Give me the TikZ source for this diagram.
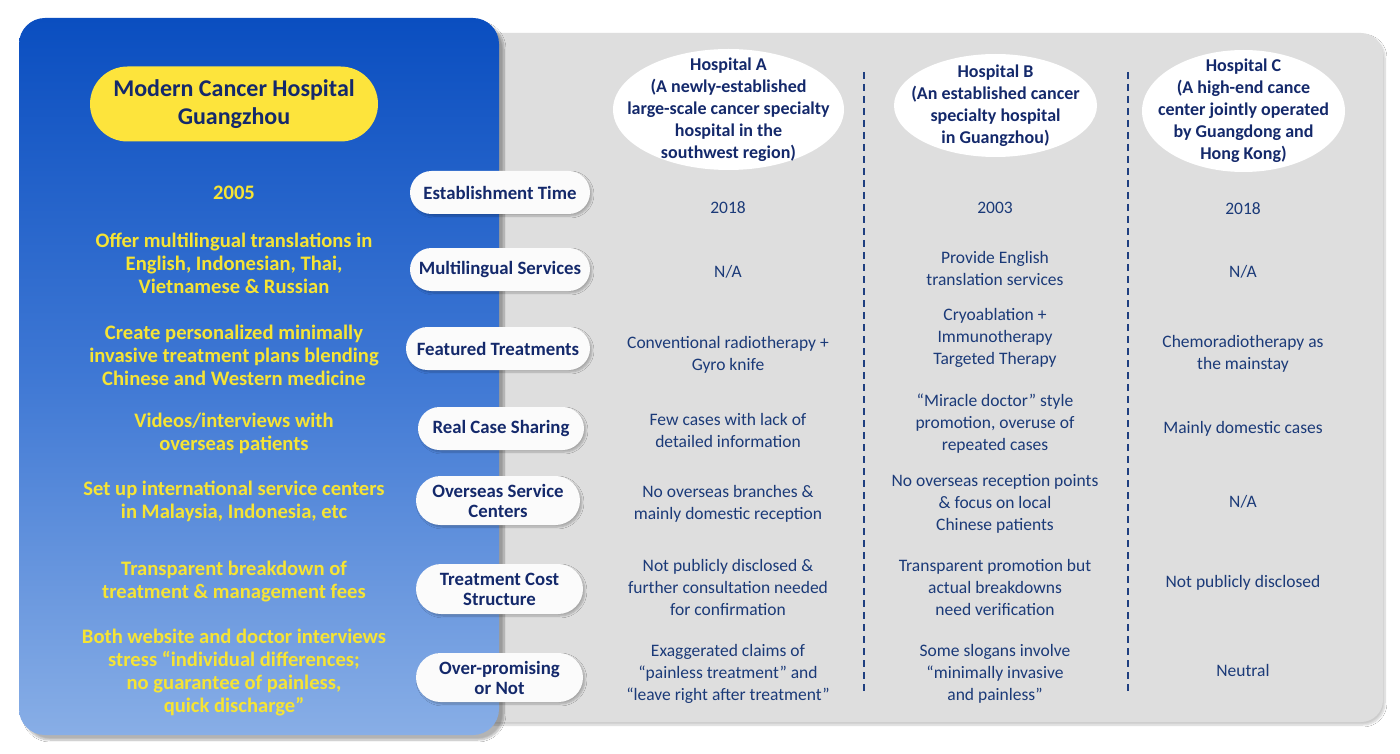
\documentclass[tikz,border=0pt]{standalone}
\usepackage{fontspec}
\setmainfont{Carlito}
\usetikzlibrary{shapes.geometric,shapes.misc,shadows.blur}
\definecolor{navy}{HTML}{14296B}
\definecolor{cellblue}{HTML}{1B3A78}
\definecolor{yel}{HTML}{F6E434}
\definecolor{pill}{HTML}{FDE43C}
\definecolor{graybg}{HTML}{DEDEDE}
\definecolor{btop}{HTML}{0A4EC0}
\definecolor{bmid}{HTML}{3F78D4}
\definecolor{bbot}{HTML}{88AEE6}
\definecolor{dashc}{HTML}{1F3F80}
\tikzset{
  lbl/.style={rounded rectangle, fill=white!97!gray, text=navy, align=center, inner sep=0pt,
    font=\bfseries\fontsize{18.8}{20}\selectfont,
    blur shadow={shadow xshift=2pt, shadow yshift=-2pt, shadow opacity=25, shadow blur steps=6}},
  cell/.style={text=cellblue, align=center, inner sep=0pt, font=\fontsize{17.5}{22}\selectfont},
  lefttxt/.style={text=yel, align=center, inner sep=0pt, font=\bfseries\fontsize{20.6}{23}\selectfont},
  hospshape/.style={ellipse, fill=white, inner sep=0pt, draw=none},
  hosptxt/.style={text=navy, align=center, inner sep=0pt, font=\bfseries\fontsize{18}{22}\selectfont},
  dashline/.style={draw=dashc, line width=1.6pt, dash pattern=on 7pt off 5pt}
}
\begin{document}
\begin{tikzpicture}[x=1pt,y=-1pt]
\useasboundingbox (0,0) rectangle (1400,754);
\fill[white] (0,0) rectangle (1400,754);
% gray panel
\path[fill=graybg, rounded corners=22pt,
  blur shadow={shadow xshift=2pt, shadow yshift=-3pt, shadow opacity=20, shadow blur steps=8}]
  (470,33) rectangle (1383,722);
% blue panel
\path[top color=btop, bottom color=bbot, middle color=bmid, rounded corners=26pt,
  blur shadow={shadow xshift=5pt, shadow yshift=-5pt, shadow opacity=30, shadow blur steps=10}]
  (19,18) rectangle (499,735);
% title pill
\node[rounded rectangle, fill=pill, minimum width=288pt, minimum height=75pt, inner sep=0pt,
  text=navy, align=center, font=\bfseries\fontsize{24}{28}\selectfont] (title) at (234,104)
  {Modern Cancer Hospital\\Guangzhou};
% left texts
\node[lefttxt] (m1) at (234,193) {2005};
\node[lefttxt] (m2) at (234,263) {Offer multilingual translations in\\English, Indonesian, Thai,\\Vietnamese \& Russian};
\node[lefttxt] (m3) at (234,355) {Create personalized minimally\\invasive treatment plans blending\\Chinese and Western medicine};
\node[lefttxt] (m4) at (234,433.5) {Videos/interviews with\\overseas patients};
\node[lefttxt] (m5) at (234,501.5) {Set up international service centers\\in Malaysia, Indonesia, etc};
\node[lefttxt] (m6) at (234,581.5) {Transparent breakdown of\\treatment \& management fees};
\node[lefttxt] (m7) at (234,673) {Both website and doctor interviews\\stress “individual differences;\\no guarantee of painless,\\quick discharge”};
% label pills
\node[lbl, minimum width=180pt, minimum height=43pt] (p1) at (500,192.5) {Establishment Time};
\node[lbl, minimum width=180pt, minimum height=43pt] (p2) at (500,269.5) {Multilingual Services};
\node[lbl, minimum width=184pt, minimum height=43pt] (p3) at (498,348.5) {Featured Treatments};
\node[lbl, minimum width=166pt, minimum height=43pt] (p4) at (501,428.5) {Real Case Sharing};
\node[lbl, minimum width=164pt, minimum height=49pt] (p5) at (498,500.5) {Overseas Service\\Centers};
\node[lbl, minimum width=167pt, minimum height=50pt] (p6) at (499.5,589) {Treatment Cost\\Structure};
\node[lbl, minimum width=167pt, minimum height=49pt] (p7) at (499.5,677.5) {Over-promising\\or Not};
% hospital headers
\node[hospshape, minimum width=231pt, minimum height=121pt] (hA) at (728.5,109.5) {};
\node[hospshape, minimum width=203pt, minimum height=103pt] (hB) at (995.5,105.5) {};
\node[hospshape, minimum width=203pt, minimum height=122pt] (hC) at (1243.5,111) {};
\node[hosptxt] (hAt) at (hA.center) {Hospital A\\(A newly-established\\large-scale cancer specialty\\hospital in the\\southwest region)};
\node[hosptxt] (hBt) at (hB.center) {Hospital B\\(An established cancer\\specialty hospital\\in Guangzhou)};
\node[hosptxt] (hCt) at (hC.center) {Hospital C\\(A high-end cance\\center jointly operated\\by Guangdong and\\Hong Kong)};
% dashed separators
\coordinate (d1t) at (864,72); \coordinate (d1b) at (864,692);
\coordinate (d2t) at (1128,72); \coordinate (d2b) at (1128,692);
\draw[dashline] (d1t) -- (d1b);
\draw[dashline] (d2t) -- (d2b);
% column A
\node[cell] (a1) at (728,208) {2018};
\node[cell] (a2) at (728,272) {N/A};
\node[cell] (a3) at (728,354.5) {Conventional radiotherapy +\\Gyro knife};
\node[cell] (a4) at (728,430) {Few cases with lack of\\detailed information};
\node[cell] (a5) at (728,504) {No overseas branches \&\\mainly domestic reception};
\node[cell] (a6) at (728,587) {Not publicly disclosed \&\\further consultation needed\\for confirmation};
\node[cell] (a7) at (728,674) {Exaggerated claims of\\“painless treatment” and\\“leave right after treatment”};
% column B
\node[cell] (b1) at (995,208) {2003};
\node[cell] (b2) at (995,268) {Provide English\\translation services};
\node[cell] (b3) at (995,338) {Cryoablation +\\Immunotherapy\\Targeted Therapy};
\node[cell] (b4) at (995,424) {“Miracle doctor” style\\promotion, overuse of\\repeated cases};
\node[cell] (b5) at (995,504) {No overseas reception points\\\& focus on local\\Chinese patients};
\node[cell] (b6) at (995,587) {Transparent promotion but\\actual breakdowns\\need verification};
\node[cell] (b7) at (995,674) {Some slogans involve\\“minimally invasive\\and painless”};
% column C
\node[cell] (c1) at (1243,209) {2018};
\node[cell] (c2) at (1243,272) {N/A};
\node[cell] (c3) at (1243,354) {Chemoradiotherapy as\\the mainstay};
\node[cell] (c4) at (1243,429) {Mainly domestic cases};
\node[cell] (c5) at (1243,502) {N/A};
\node[cell] (c6) at (1243,583) {Not publicly disclosed};
\node[cell] (c7) at (1243,670) {Neutral};
\end{tikzpicture}
\end{document}
